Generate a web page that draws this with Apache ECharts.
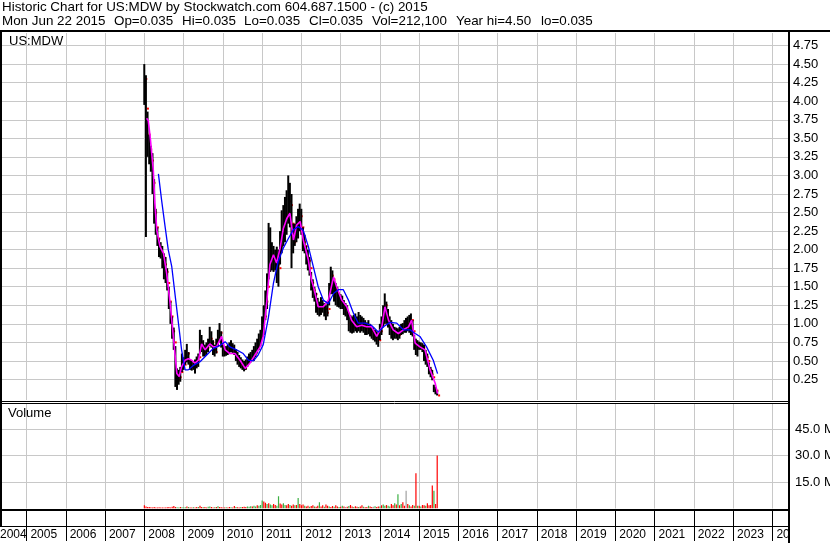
<!DOCTYPE html>
<html><head><meta charset="utf-8">
<script src="https://cdn.jsdelivr.net/npm/echarts@6/dist/echarts.min.js"></script>
<style>html,body{margin:0;padding:0;background:#fff}#c{width:830px;height:543px}</style>
</head><body><div id="c"></div>
<script>
const titleLine1 = 'Historic Chart for US:MDW by Stockwatch.com 604.687.1500 - (c) 2015';
const titleLine2Items = ['Mon Jun 22 2015', 'Op=0.035', 'Hi=0.035', 'Lo=0.035', 'Cl=0.035', 'Vol=212,100', 'Year hi=4.50', 'lo=0.035'];
const symbolLabel = 'US:MDW';
const volumeTitle = 'Volume';

const yearTicks = [2005,2006,2007,2008,2009,2010,2011,2012,2013,2014,2015,2016,2017,2018,2019,2020,2021,2022,2023,2024];
const yearLabels = ['2004','2005','2006','2007','2008','2009','2010','2011','2012','2013','2014','2015','2016','2017','2018','2019','2020','2021','2022','2023','2024'];
const priceTicks = [0.25,0.5,0.75,1,1.25,1.5,1.75,2,2.25,2.5,2.75,3,3.25,3.5,3.75,4,4.25,4.5,4.75];
const volumeTicks = [15,30,45];

// half-monthly periods starting Jan 2008
const startYear = 2008;
const periodsPerYear = 24;

const priceHigh = [
4.50,4.35,3.86,3.55,3.40,3.30,2.95,2.55,2.30,2.15,2.10,2.05,1.95,1.90,1.75,1.50,1.30,1.10,0.95,0.70,0.40,0.38,0.42,0.60,
0.55,0.65,0.73,0.62,0.52,0.50,0.48,0.52,0.56,0.60,0.92,0.85,0.78,0.72,0.75,0.80,0.96,0.90,0.78,0.72,0.80,0.92,1.01,0.90,
0.72,0.68,0.70,0.72,0.75,0.78,0.74,0.72,0.66,0.62,0.58,0.55,0.52,0.50,0.52,0.56,0.60,0.62,0.65,0.70,0.75,0.80,0.87,0.92,
1.10,1.25,1.45,1.68,2.36,2.30,2.10,2.05,2.00,2.04,2.00,2.25,2.53,2.60,2.71,2.80,3.00,2.90,2.75,2.35,2.35,2.45,2.55,2.62,
2.55,2.30,2.20,2.05,2.00,1.90,1.70,1.60,1.50,1.42,1.35,1.30,1.36,1.32,1.28,1.25,1.30,1.55,1.77,1.72,1.60,1.55,1.50,1.42,
1.40,1.38,1.32,1.28,1.25,1.15,1.12,1.10,1.12,1.14,1.10,1.16,1.12,1.10,1.08,1.05,1.02,1.05,1.00,0.96,0.95,0.92,0.90,0.88,
1.00,1.10,1.25,1.41,1.30,1.20,1.10,1.05,1.00,0.96,0.95,0.94,0.96,1.00,1.01,1.05,1.08,1.10,1.12,1.14,1.05,0.85,0.80,0.78,
0.76,0.75,0.74,0.72,0.65,0.60,0.48,0.42,0.38,0.18,0.15,0.10];
const priceLow = [
3.95,2.17,3.25,3.15,3.05,2.75,2.35,2.20,2.05,1.90,1.88,1.75,1.60,1.55,1.45,1.20,1.00,0.80,0.65,0.15,0.11,0.18,0.22,0.35,
0.38,0.45,0.48,0.45,0.38,0.37,0.38,0.33,0.40,0.42,0.60,0.62,0.56,0.56,0.58,0.62,0.70,0.68,0.58,0.56,0.60,0.70,0.75,0.68,
0.56,0.56,0.57,0.58,0.60,0.62,0.60,0.58,0.50,0.45,0.42,0.40,0.38,0.36,0.38,0.42,0.46,0.48,0.50,0.50,0.55,0.60,0.65,0.70,
0.78,0.85,1.05,1.20,1.60,1.70,1.72,1.70,1.72,1.55,1.50,1.80,1.95,2.05,2.10,2.20,2.35,2.30,1.75,1.95,2.05,2.10,2.15,2.25,
2.20,1.98,1.95,1.80,1.72,1.65,1.45,1.35,1.30,1.15,1.12,1.10,1.12,1.15,1.10,1.05,1.10,1.25,1.40,1.40,1.30,1.25,1.23,1.22,
1.20,1.20,1.12,1.10,1.05,0.90,0.88,0.87,0.88,0.90,0.88,0.90,0.88,0.90,0.88,0.85,0.85,0.86,0.83,0.80,0.78,0.76,0.72,0.69,
0.78,0.85,0.95,1.00,1.00,0.95,0.85,0.80,0.78,0.80,0.80,0.78,0.80,0.85,0.86,0.88,0.88,0.90,0.88,0.85,0.83,0.65,0.58,0.56,
0.65,0.65,0.62,0.50,0.45,0.42,0.32,0.28,0.24,0.08,0.05,0.035];
const priceClose = [
4.30,3.90,3.55,3.35,3.20,2.90,2.50,2.30,2.15,2.00,1.95,1.90,1.80,1.70,1.55,1.30,1.10,0.90,0.75,0.30,0.25,0.28,0.35,0.50,
0.45,0.55,0.60,0.50,0.42,0.45,0.42,0.45,0.50,0.55,0.75,0.70,0.62,0.65,0.68,0.72,0.80,0.75,0.65,0.62,0.70,0.80,0.88,0.72,
0.62,0.60,0.63,0.65,0.66,0.68,0.64,0.62,0.55,0.50,0.46,0.44,0.42,0.40,0.45,0.50,0.52,0.55,0.58,0.60,0.65,0.70,0.78,0.85,
0.95,1.10,1.30,1.50,2.00,1.90,1.85,1.90,1.85,1.80,1.75,2.05,2.30,2.35,2.45,2.50,2.65,2.60,2.35,2.10,2.20,2.30,2.35,2.45,
2.30,2.10,2.05,1.90,1.85,1.75,1.55,1.45,1.40,1.25,1.20,1.18,1.25,1.22,1.20,1.15,1.20,1.45,1.65,1.60,1.45,1.40,1.35,1.30,
1.28,1.25,1.20,1.15,1.12,1.00,0.95,0.95,1.00,1.02,0.98,1.00,0.98,1.00,0.95,0.95,0.92,0.95,0.90,0.88,0.85,0.82,0.80,0.78,
0.90,1.00,1.10,1.25,1.10,1.00,0.95,0.90,0.88,0.88,0.86,0.85,0.88,0.92,0.95,0.98,1.00,1.02,1.00,1.05,0.90,0.75,0.70,0.68,
0.70,0.70,0.68,0.60,0.55,0.50,0.38,0.32,0.28,0.12,0.10,0.035];

// volume in millions of shares, one value per half-month period
const volume = [
1.8,1.2,0.9,0.8,0.7,0.6,0.8,0.6,0.5,0.7,0.6,0.5,0.6,0.5,0.7,0.8,0.6,1.0,1.4,0.9,0.7,0.6,0.8,0.7,
0.6,0.7,1.2,0.8,0.6,0.5,0.7,0.6,0.8,0.9,1.6,0.9,0.7,0.8,0.6,1.0,1.2,0.8,0.6,0.7,0.9,1.3,0.8,0.7,
0.6,0.5,0.7,0.6,0.8,0.7,0.6,1.4,0.8,0.7,0.6,0.9,0.8,1.0,0.9,1.2,1.0,1.3,1.1,1.5,1.2,1.8,1.6,2.0,
4.5,4.0,3.2,2.5,3.0,2.2,1.8,2.5,2.0,1.6,7.0,2.8,2.2,3.0,2.0,1.8,2.5,2.0,1.6,2.2,1.8,2.0,6.0,2.5,
1.8,2.2,1.5,1.2,1.6,1.0,1.4,1.8,1.2,1.0,1.5,3.5,1.2,1.8,1.0,2.2,1.5,1.2,0.9,1.4,1.0,1.8,1.2,0.9,
1.0,1.5,1.2,0.8,1.0,1.4,2.0,1.1,0.9,1.3,1.0,0.8,1.2,1.8,1.0,0.7,0.9,1.5,1.1,0.8,1.0,1.3,0.9,1.2,
1.2,1.8,2.2,1.5,2.0,1.6,1.2,2.5,1.8,3.0,2.2,8.0,1.8,2.5,3.5,1.5,10.0,2.5,1.8,1.2,2.0,1.5,20.0,1.5,
1.5,1.2,2.0,1.8,1.5,3.0,1.8,2.0,13.0,10.0,2.5,30.0];
// bar colour: u = up (green), d = down (red), n = unchanged (grey)
const volumeDir =
'dddddddddddddddddddduudu' +
'uududdudduddudduuddududd' +
'ddudduddudduddduuuduuduu' +
'udduduudduudduudduddudud' +
'ddudduddudduddudduddudduu'.slice(0,24) +
'dudnduddudduddudduddnudd' +
'uduuduuddudududdnduddudu' +
'duddudddduddd'.slice(0,12);

// short moving average (magenta): [year, price]
const maShort = [[2008.06,3.77],[2008.10,3.74],[2008.15,3.52],[2008.23,3.07],[2008.27,2.62],[2008.32,2.26],[2008.40,2.04],[2008.49,1.95],[2008.57,1.68],[2008.66,1.27],[2008.74,0.83],[2008.83,0.33],[2008.89,0.29],[2008.95,0.42],[2009.04,0.51],[2009.12,0.53],[2009.21,0.51],[2009.29,0.47],[2009.38,0.51],[2009.46,0.73],[2009.55,0.65],[2009.67,0.73],[2009.76,0.69],[2009.84,0.69],[2009.97,0.83],[2010.06,0.65],[2010.18,0.60],[2010.31,0.60],[2010.44,0.51],[2010.57,0.40],[2010.69,0.47],[2010.82,0.58],[2010.86,0.60],[2010.95,0.69],[2011.03,0.83],[2011.12,1.30],[2011.20,1.80],[2011.29,1.93],[2011.37,1.82],[2011.46,2.02],[2011.54,2.28],[2011.63,2.42],[2011.71,2.49],[2011.80,2.13],[2011.88,2.33],[2011.97,2.38],[2012.05,2.13],[2012.18,1.86],[2012.26,1.59],[2012.31,1.50],[2012.39,1.32],[2012.43,1.23],[2012.56,1.23],[2012.69,1.32],[2012.82,1.63],[2012.90,1.50],[2013.03,1.32],[2013.16,1.23],[2013.28,1.05],[2013.41,0.96],[2013.54,0.98],[2013.66,0.96],[2013.79,0.96],[2013.92,0.83],[2014.05,0.96],[2014.13,1.23],[2014.22,1.05],[2014.34,0.92],[2014.47,0.87],[2014.60,0.92],[2014.73,0.96],[2014.81,1.05],[2014.90,0.74],[2015.02,0.69],[2015.15,0.65],[2015.28,0.38],[2015.41,0.20],[2015.47,0.06]];
// long moving average (blue): [year, price]
const maLong = [[2008.36,3.02],[2008.44,2.67],[2008.53,2.31],[2008.61,2.00],[2008.70,1.77],[2008.78,1.41],[2008.87,1.01],[2008.95,0.65],[2009.04,0.38],[2009.12,0.38],[2009.25,0.44],[2009.42,0.49],[2009.59,0.58],[2009.76,0.67],[2009.93,0.71],[2010.06,0.76],[2010.18,0.69],[2010.35,0.65],[2010.52,0.60],[2010.65,0.51],[2010.78,0.50],[2010.90,0.58],[2011.03,0.72],[2011.16,1.08],[2011.29,1.55],[2011.41,1.84],[2011.54,2.02],[2011.67,2.15],[2011.80,2.27],[2011.92,2.31],[2012.05,2.26],[2012.18,2.04],[2012.31,1.76],[2012.43,1.50],[2012.56,1.32],[2012.69,1.27],[2012.82,1.41],[2012.94,1.46],[2013.07,1.46],[2013.20,1.32],[2013.33,1.14],[2013.45,1.01],[2013.62,1.01],[2013.79,0.98],[2013.96,0.89],[2014.09,0.96],[2014.26,1.02],[2014.43,1.01],[2014.60,0.92],[2014.77,0.92],[2014.90,0.87],[2015.02,0.83],[2015.19,0.69],[2015.36,0.51],[2015.47,0.33]];

// ---------- build ----------
const periodYear = priceHigh.map((_, i) => startYear + i / periodsPerYear);
const priceData = periodYear.map((y, i) => [y, priceHigh[i], priceLow[i], priceClose[i]]);
const volColors = {u: '#3cb043', d: '#ff0000', n: '#a0a0a0'};
const volData = periodYear.map((y, i) => [y, volume[i], volumeDir[i] || 'd']);

const X_MIN = 2004.325, X_MAX = 2024.396;
const LABEL_SHIFT = 0.1;
const GRID_RIGHT = 42;
const font = 'Arial, "Liberation Sans", sans-serif';
const headerFont = '13.4px ' + font;
const gridGray = '#c8c8c8';
const headerX = [2, 114, 182, 244, 309, 372, 456, 541];

const chart = echarts.init(document.getElementById('c'), null, {renderer: 'canvas'});

function xAxisFor(gridIndex, extra) {
  return Object.assign({
    type: 'value', gridIndex, min: X_MIN, max: X_MAX,
    axisLine: {show: false}, axisLabel: {show: false},
    axisTick: {show: false, customValues: yearTicks},
    splitLine: {show: true, lineStyle: {color: gridGray, width: 1}}
  }, extra || {});
}

const headerTexts = titleLine2Items.map((t, i) => ({
  type: 'text', left: headerX[i], top: 15, z: 100, style: {text: t, font: headerFont, fill: '#000'}
}));

const option = {
  animation: false,
  backgroundColor: '#fff',
  grid: [
    {left: 0, right: GRID_RIGHT, top: 33, height: 367, outerBoundsMode: 'none'},
    {left: 0, right: GRID_RIGHT, top: 403.5, height: 105, outerBoundsMode: 'none'},
    {left: 0, right: GRID_RIGHT, top: 510, height: 16, outerBoundsMode: 'none'}
  ],
  xAxis: [
    xAxisFor(0),
    xAxisFor(1),
    xAxisFor(2, {
      position: 'bottom',
      axisLine: {show: true, onZero: false, lineStyle: {color: '#000', width: 1}},
      axisTick: {show: true, customValues: yearTicks, length: 15, inside: false, lineStyle: {color: '#000', width: 1}},
      splitLine: {show: true, lineStyle: {color: '#000', width: 1}},
      axisLabel: {
        show: true, customValues: [X_MIN].concat(yearTicks.map(y => y + LABEL_SHIFT)),
        formatter: v => yearLabels[Math.floor(v + 1e-6) - 2004],
        align: 'left', margin: 3, fontSize: 12, fontFamily: font, color: '#000'
      }
    })
  ],
  yAxis: [
    {
      type: 'value', gridIndex: 0, position: 'right', min: -0.026, max: 4.919,
      axisLine: {show: false},
      axisTick: {show: false, customValues: priceTicks},
      splitLine: {show: true, lineStyle: {color: gridGray, width: 1}},
      axisLabel: {
        show: true, customValues: priceTicks, formatter: v => v.toFixed(2),
        margin: 5, align: 'left', fontSize: 13, fontFamily: font, color: '#000', padding: [3, 0, 0, 0]
      }
    },
    {
      type: 'value', gridIndex: 1, position: 'right', min: 0, max: 59.43,
      axisLine: {show: false},
      axisTick: {show: false, customValues: volumeTicks},
      splitLine: {show: true, lineStyle: {color: gridGray, width: 1}},
      axisLabel: {
        show: true, customValues: volumeTicks, formatter: v => v.toFixed(1) + ' M',
        margin: 7, align: 'left', fontSize: 13, fontFamily: font, color: '#000'
      }
    },
    {type: 'value', gridIndex: 2, min: 0, max: 1, show: false, splitLine: {show: false}}
  ],
  series: [
    {
      type: 'custom', name: 'price', xAxisIndex: 0, yAxisIndex: 0, clip: true, z: 2,
      data: priceData,
      encode: {x: 0, y: [1, 2, 3]},
      renderItem(params, api) {
        const x = api.value(0);
        const hi = api.coord([x, api.value(1)]);
        const lo = api.coord([x, api.value(2)]);
        const cl = api.coord([x, api.value(3)]);
        return {
          type: 'group',
          children: [
            {type: 'rect', shape: {x: hi[0] - 1, y: hi[1], width: 2, height: Math.max(1, lo[1] - hi[1])}, style: {fill: '#000'}},
            {type: 'rect', shape: {x: cl[0] + 1, y: cl[1] - 1, width: 2, height: 2}, style: {fill: '#ff0000'}}
          ]
        };
      }
    },
    {
      type: 'line', name: 'maShort', xAxisIndex: 0, yAxisIndex: 0, data: maShort, symbol: 'none', z: 3,
      lineStyle: {color: '#ff00ff', width: 1.6}, clip: true
    },
    {
      type: 'line', name: 'maLong', xAxisIndex: 0, yAxisIndex: 0, data: maLong, symbol: 'none', z: 4,
      lineStyle: {color: '#0000ff', width: 1.3}, clip: true
    },
    {
      type: 'custom', name: 'volume', xAxisIndex: 1, yAxisIndex: 1, clip: true, z: 2,
      data: volData,
      encode: {x: 0, y: 1},
      renderItem(params, api) {
        const x = api.value(0);
        const top = api.coord([x, api.value(1)]);
        const base = api.coord([x, 0]);
        const dir = volData[params.dataIndex][2];
        return {type: 'rect', shape: {x: top[0] - 0.5, y: top[1], width: 1.2, height: Math.max(1, base[1] - top[1])}, style: {fill: volColors[dir]}};
      }
    }
  ],
  graphic: [
    {type: 'text', left: 2, top: 1, z: 100, style: {text: titleLine1, font: headerFont, fill: '#000'}}
  ].concat(headerTexts).concat([
    {type: 'text', left: 9, top: 35, z: 100, style: {text: symbolLabel, font: '13px ' + font, fill: '#000'}},
    {type: 'text', left: 8, top: 407, z: 100, style: {text: volumeTitle, font: '13px ' + font, fill: '#000'}},
    {type: 'rect', z: 99, shape: {x: 790, y: 527, width: 40, height: 16}, style: {fill: '#fff'}},
    {type: 'line', z: 101, shape: {x1: 0, y1: 31, x2: 830, y2: 31}, style: {stroke: '#000', lineWidth: 2}},
    {type: 'line', z: 101, shape: {x1: 1, y1: 30, x2: 1, y2: 526}, style: {stroke: '#000', lineWidth: 2}},
    {type: 'line', z: 101, shape: {x1: 789, y1: 30, x2: 789, y2: 543}, style: {stroke: '#000', lineWidth: 2}},
    {type: 'line', z: 101, shape: {x1: 0, y1: 401.5, x2: 789, y2: 401.5}, style: {stroke: '#000', lineWidth: 1}},
    {type: 'line', z: 101, shape: {x1: 0, y1: 403.5, x2: 789, y2: 403.5}, style: {stroke: '#000', lineWidth: 1}},
    {type: 'line', z: 101, shape: {x1: 0, y1: 510, x2: 789, y2: 510}, style: {stroke: '#000', lineWidth: 2}}
  ])
};
chart.setOption(option);
</script>
</body></html>
